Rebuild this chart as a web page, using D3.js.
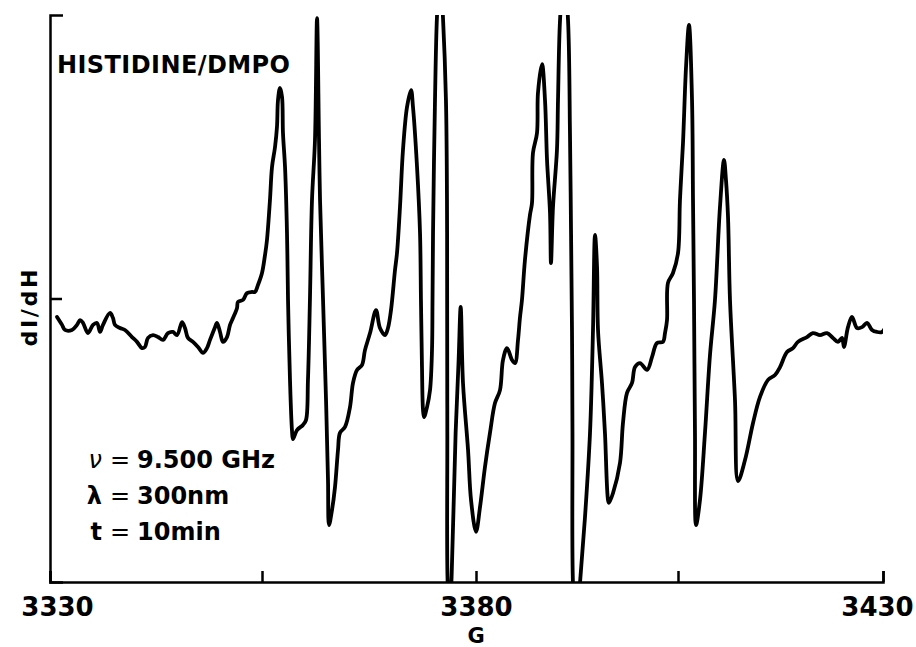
<!DOCTYPE html>
<html>
<head>
<meta charset="utf-8">
<script src="https://cdn.jsdelivr.net/npm/d3@7"></script>
<style>
  body { margin: 0; background: #fff; }
  text { font-family: "DejaVu Sans", sans-serif; font-weight: bold; fill: #000; }
</style>
</head>
<body>
<svg id="chart" width="916" height="647"></svg>
<script>
'use strict';

// ESR spectrum, field in gauss vs derivative signal (arbitrary units)
const trace = [
  [3330.83,-6.5],[3331.42,-9.3],[3331.77,-11.1],[3332.59,-11.1],[3333.18,-9.3],[3333.54,-7.6],[3333.89,-8.6],
  [3334.48,-12.2],[3335.07,-9.3],[3335.54,-8.6],[3335.90,-11.8],[3336.25,-9.3],[3337.08,-5.1],[3337.43,-6.9],
  [3337.66,-9.3],[3338.25,-10.4],[3338.84,-11.1],[3339.67,-13.6],[3340.26,-15.3],[3340.85,-17.5],[3341.20,-17.1],
  [3341.56,-13.9],[3342.15,-12.9],[3342.74,-13.6],[3343.33,-14.6],[3343.91,-12.2],[3344.50,-11.8],[3344.98,-12.9],
  [3345.57,-8.3],[3345.92,-10.4],[3346.27,-13.9],[3346.86,-15.3],[3347.45,-17.1],[3348.04,-19.2],[3348.51,-17.5],
  [3348.87,-14.6],[3349.46,-10.1],[3349.69,-8.6],[3350.05,-11.8],[3350.40,-15.3],[3350.87,-13.6],[3351.23,-9.3],
  [3351.58,-6.9],[3352.05,-3.4],[3352.17,-1.2],[3352.76,-0.5],[3353.23,1.9],[3353.82,2.3],[3354.17,2.3],[3354.53,4.8],
  [3355.00,9.0],[3355.35,15.3],[3355.58,20.6],[3355.93,34.7],[3356.17,46.4],[3356.52,53.4],[3356.75,60.5],
  [3356.87,70.0],[3357.10,74.3],[3357.34,71.1],[3357.45,58.4],[3357.69,46.4],[3357.92,23.1],[3358.04,-0.5],
  [3358.27,-28.7],[3358.50,-46.4],[3358.62,-49.6],[3359.09,-46.4],[3359.79,-44.6],[3360.14,-42.9],[3360.37,-28.7],
  [3360.60,-0.5],[3360.84,34.7],[3361.19,55.9],[3361.43,98.9],[3361.66,55.9],[3361.78,34.7],[3362.13,-0.5],
  [3362.48,-35.8],[3362.71,-64.0],[3362.83,-79.9],[3363.18,-74.6],[3363.53,-66.5],[3363.88,-53.4],[3364.11,-47.4],
  [3364.70,-45.3],[3365.28,-38.3],[3365.63,-29.8],[3366.10,-25.2],[3366.68,-23.5],[3367.03,-18.2],[3367.62,-12.2],
  [3368.32,-4.1],[3368.78,-10.4],[3369.37,-12.9],[3369.72,-10.4],[3370.07,-4.1],[3370.54,10.1],[3370.77,16.0],
  [3371.12,32.3],[3371.47,52.4],[3371.94,67.5],[3372.41,73.5],[3372.64,67.5],[3373.11,46.4],[3373.46,23.1],
  [3373.57,-0.5],[3373.69,-24.2],[3373.81,-39.3],[3373.93,-41.8],[3374.28,-38.3],[3374.63,-32.3],[3374.86,-18.2],
  [3374.92,-0.5],[3374.98,23.1],[3375.21,70.0],[3375.44,99.3],[3375.79,115.9],[3376.14,99.3],[3376.49,70.0],
  [3376.61,34.7],[3376.63,-0.5],[3376.65,-47.4],[3376.67,-98.2],[3376.90,-113.4],[3377.15,-98.2],[3377.62,-47.4],
  [3377.97,-21.7],[3378.21,-3.0],[3378.48,-29.8],[3379.07,-53.4],[3379.42,-71.1],[3380.00,-82.3],
  [3380.50,-73.5],[3381.11,-59.4],[3381.73,-47.4],[3382.35,-36.9],[3382.97,-32.3],[3383.34,-21.7],[3383.84,-17.5],
  [3384.46,-21.7],[3384.83,-22.8],[3385.20,-14.6],[3385.45,-6.5],[3385.69,-0.5],[3386.06,13.6],[3386.68,29.5],
  [3386.93,33.7],[3387.05,51.3],[3387.55,58.4],[3387.67,72.5],[3388.17,82.7],[3388.54,70.0],[3388.79,48.9],
  [3389.16,30.2],[3389.28,12.5],[3389.53,32.3],[3390.02,52.4],[3390.15,70.0],[3390.40,98.2],[3390.89,115.9],
  [3391.39,98.2],[3391.63,58.4],[3391.76,24.2],[3391.88,-11.1],[3391.94,-47.4],[3392.00,-100.4],[3392.38,-116.9],
  [3392.87,-100.4],[3393.49,-77.1],[3394.11,-47.4],[3394.48,-11.1],[3394.73,22.4],[3394.98,11.1],[3395.10,-11.1],
  [3395.59,-29.8],[3395.96,-47.4],[3396.34,-71.1],[3396.46,-72.1],[3396.96,-68.6],[3397.82,-58.0],[3398.19,-43.9],
  [3398.69,-33.3],[3399.31,-29.8],[3399.68,-24.2],[3400.30,-22.8],[3401.17,-25.2],[3401.79,-20.6],[3402.40,-15.7],
  [3403.14,-15.3],[3403.39,-12.2],[3403.64,-7.6],[3403.76,5.5],[3404.38,9.0],
  [3405.00,16.0],[3405.24,34.7],[3405.61,54.9],[3405.98,81.7],[3406.34,96.5],[3406.71,70.0],[3406.83,34.7],
  [3406.95,-0.5],[3407.07,-47.4],[3407.20,-79.9],[3407.68,-71.1],[3408.29,-47.4],[3408.90,-20.0],[3409.51,-0.5],
  [3410.12,32.3],[3410.61,48.9],[3410.85,41.8],[3411.10,28.7],[3411.34,-0.5],[3411.95,-35.8],[3412.32,-64.4],
  [3413.17,-57.0],[3414.15,-43.9],[3415.00,-34.7],[3415.98,-28.7],[3416.83,-27.0],[3417.44,-24.2],[3418.29,-18.9],
  [3419.02,-17.5],[3419.63,-15.3],[3420.73,-13.6],[3421.46,-12.2],[3422.32,-12.9],[3423.17,-12.2],[3423.90,-13.9],
  [3424.51,-15.3],[3425.00,-13.9],[3425.24,-17.1],[3425.73,-10.1],[3426.22,-6.5],[3426.83,-10.4],[3427.44,-10.1],
  [3428.05,-8.6],[3428.66,-11.1],[3429.27,-11.8],[3429.88,-11.8],[3430.37,-9.7]
];

const fieldTicks = [3330, 3355, 3380, 3405, 3430];
const labelledTicks = [3330, 3380, 3430];
const signalTicks = [0];
const paramSymbols = ["\u03bd", "\u03bb", "t"];
const paramValues = ["9.500 GHz", "300nm", "10min"];

const svg = d3.select("#chart");

// hand drawn axis: tick spacing is a little uneven, so use a polylinear scale
let x = d3.scaleLinear()
  .domain(fieldTicks)
  .range([50, 262, 476, 678, 883]);
let y = d3.scaleLinear()
  .domain([-100, 100])
  .range([582, 15]);

svg.append("clipPath")
  .attr("id", "plot-clip")
  .append("rect")
  .attr("x", 50).attr("y", 15)
  .attr("width", 833).attr("height", 567);

let xAxis = d3.axisBottom(x)
  .tickValues(fieldTicks)
  .tickSizeInner(-11)
  .tickSizeOuter(-11)
  .tickPadding(16)
  .tickFormat(d => labelledTicks.includes(d) ? d : "");

let gx = svg.append("g")
  .attr("transform", "translate(0,582)")
  .call(xAxis);
gx.select(".domain").attr("stroke-width", 2.5);
gx.selectAll(".tick line").attr("stroke-width", 2.5);
gx.selectAll(".tick text")
  .style("font-size", "26px")
  .attr("dx", d => d === 3330 ? 7 : (d === 3430 ? -6 : 0));

let yAxis = d3.axisLeft(y)
  .tickValues(signalTicks)
  .tickSizeInner(-12)
  .tickSizeOuter(-13)
  .tickFormat("");

let gy = svg.append("g")
  .attr("transform", "translate(50,0)")
  .call(yAxis);
gy.select(".domain").attr("stroke-width", 2.5);
gy.selectAll(".tick line").attr("stroke-width", 2.5);

let line = d3.line()
  .curve(d3.curveCatmullRom.alpha(0.5))
  .x(d => x(d[0]))
  .y(d => y(d[1]));

svg.append("path")
  .datum(trace)
  .attr("clip-path", "url(#plot-clip)")
  .attr("fill", "none")
  .attr("stroke", "#000")
  .attr("stroke-width", 3.8)
  .attr("stroke-linejoin", "round")
  .attr("stroke-linecap", "round")
  .attr("d", line);

// labels
svg.append("text")
  .attr("x", 57).attr("y", 73)
  .attr("textLength", 233)
  .style("font-size", "24px")
  .text("HISTIDINE/DMPO");

svg.append("text")
  .attr("transform", "translate(37,308) rotate(-90)")
  .attr("text-anchor", "middle")
  .attr("textLength", 77)
  .style("font-size", "22px")
  .text("dI/dH");

svg.append("text")
  .attr("x", x(3380)).attr("y", 643)
  .attr("text-anchor", "middle")
  .style("font-size", "21px")
  .text("G");

let params = svg.append("g");
paramSymbols.forEach(function (sym, i) {
  let baseY = 468 + i * 36;
  params.append("text")
    .attr("x", 102).attr("y", baseY)
    .attr("text-anchor", "end")
    .style("font-size", "24px")
    .style("font-weight", i === 0 ? "normal" : "bold")
    .style("font-style", i === 0 ? "italic" : "normal")
    .text(sym);
  params.append("text")
    .attr("x", 120).attr("y", baseY)
    .attr("text-anchor", "middle")
    .style("font-size", "24px")
    .style("font-weight", "normal")
    .text("=");
  params.append("text")
    .attr("x", 137).attr("y", baseY)
    .style("font-size", "24px")
    .text(paramValues[i]);
});
</script>
</body>
</html>
